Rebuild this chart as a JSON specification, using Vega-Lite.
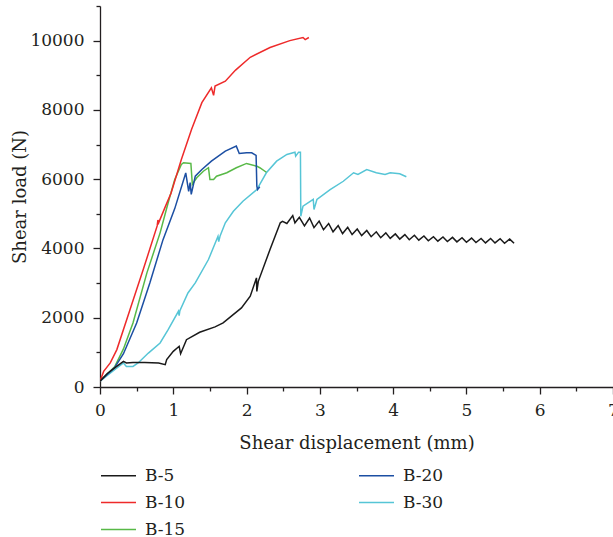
{
  "$schema": "https://vega.github.io/schema/vega-lite/v6.json",
  "width": 513,
  "height": 381,
  "autosize": {"type": "none"},
  "padding": {"left": 100, "top": 6, "right": 0, "bottom": 150},
  "background": "white",
  "config": {
    "view": {"stroke": null},
    "font": "DejaVu Serif",
    "axis": {
      "grid": false,
      "domainColor": "#231f20",
      "domainWidth": 1.3,
      "tickColor": "#231f20",
      "tickWidth": 1.3,
      "labelFont": "DejaVu Serif",
      "labelFontSize": 17,
      "labelColor": "#231f20",
      "titleFont": "DejaVu Serif",
      "titleFontSize": 18,
      "titleFontWeight": "normal",
      "titleColor": "#231f20"
    }
  },
  "data": {
    "values": [
      {"s":"B-30","x":0,"y":170},{"s":"B-30","x":0.2,"y":500},{"s":"B-30","x":0.32,"y":695},{"s":"B-30","x":0.36,"y":595},{"s":"B-30","x":0.45,"y":595},{"s":"B-30","x":0.52,"y":695},{"s":"B-30","x":0.66,"y":980},{"s":"B-30","x":0.82,"y":1270},{"s":"B-30","x":0.93,"y":1655},{"s":"B-30","x":1.07,"y":2185},{"s":"B-30","x":1.08,"y":2060},{"s":"B-30","x":1.09,"y":2205},{"s":"B-30","x":1.2,"y":2715},{"s":"B-30","x":1.3,"y":3005},{"s":"B-30","x":1.48,"y":3680},{"s":"B-30","x":1.61,"y":4350},{"s":"B-30","x":1.62,"y":4200},{"s":"B-30","x":1.64,"y":4370},{"s":"B-30","x":1.71,"y":4740},{"s":"B-30","x":1.82,"y":5075},{"s":"B-30","x":1.95,"y":5365},{"s":"B-30","x":2.14,"y":5700},{"s":"B-30","x":2.27,"y":6185},{"s":"B-30","x":2.41,"y":6520},{"s":"B-30","x":2.55,"y":6715},{"s":"B-30","x":2.66,"y":6780},{"s":"B-30","x":2.67,"y":6665},{"s":"B-30","x":2.71,"y":6780},{"s":"B-30","x":2.735,"y":6780},{"s":"B-30","x":2.74,"y":4930},{"s":"B-30","x":2.77,"y":5220},{"s":"B-30","x":2.91,"y":5415},{"s":"B-30","x":2.92,"y":5125},{"s":"B-30","x":2.96,"y":5415},{"s":"B-30","x":3.14,"y":5700},{"s":"B-30","x":3.32,"y":5940},{"s":"B-30","x":3.46,"y":6185},{"s":"B-30","x":3.52,"y":6135},{"s":"B-30","x":3.64,"y":6280},{"s":"B-30","x":3.77,"y":6185},{"s":"B-30","x":3.89,"y":6135},{"s":"B-30","x":3.96,"y":6185},{"s":"B-30","x":4.09,"y":6155},{"s":"B-30","x":4.18,"y":6070},

      {"s":"B-15","x":0,"y":170},{"s":"B-15","x":0.2,"y":580},{"s":"B-15","x":0.32,"y":1100},{"s":"B-15","x":0.45,"y":1850},{"s":"B-15","x":0.64,"y":3295},{"s":"B-15","x":0.82,"y":4450},{"s":"B-15","x":0.93,"y":5320},{"s":"B-15","x":1.02,"y":5990},{"s":"B-15","x":1.11,"y":6425},{"s":"B-15","x":1.14,"y":6475},{"s":"B-15","x":1.24,"y":6455},{"s":"B-15","x":1.26,"y":5850},{"s":"B-15","x":1.32,"y":6040},{"s":"B-15","x":1.41,"y":6230},{"s":"B-15","x":1.48,"y":6330},{"s":"B-15","x":1.5,"y":5990},{"s":"B-15","x":1.55,"y":5990},{"s":"B-15","x":1.59,"y":6085},{"s":"B-15","x":1.73,"y":6185},{"s":"B-15","x":1.86,"y":6330},{"s":"B-15","x":2.0,"y":6455},{"s":"B-15","x":2.14,"y":6375},{"s":"B-15","x":2.18,"y":6330},{"s":"B-15","x":2.27,"y":6200},

      {"s":"B-20","x":0,"y":170},{"s":"B-20","x":0.2,"y":560},{"s":"B-20","x":0.32,"y":960},{"s":"B-20","x":0.5,"y":1850},{"s":"B-20","x":0.68,"y":3005},{"s":"B-20","x":0.86,"y":4255},{"s":"B-20","x":1.02,"y":5150},{"s":"B-20","x":1.17,"y":6180},{"s":"B-20","x":1.21,"y":5650},{"s":"B-20","x":1.23,"y":5900},{"s":"B-20","x":1.245,"y":5560},{"s":"B-20","x":1.3,"y":6085},{"s":"B-20","x":1.39,"y":6280},{"s":"B-20","x":1.52,"y":6520},{"s":"B-20","x":1.71,"y":6810},{"s":"B-20","x":1.86,"y":6955},{"s":"B-20","x":1.9,"y":6740},{"s":"B-20","x":2.0,"y":6760},{"s":"B-20","x":2.07,"y":6760},{"s":"B-20","x":2.13,"y":6685},{"s":"B-20","x":2.14,"y":5800},{"s":"B-20","x":2.15,"y":5700},{"s":"B-20","x":2.18,"y":5780},

      {"s":"B-10","x":0,"y":170},{"s":"B-10","x":0.05,"y":450},{"s":"B-10","x":0.14,"y":695},{"s":"B-10","x":0.23,"y":1080},{"s":"B-10","x":0.41,"y":2235},{"s":"B-10","x":0.59,"y":3390},{"s":"B-10","x":0.78,"y":4650},{"s":"B-10","x":0.79,"y":4820},{"s":"B-10","x":0.8,"y":4740},{"s":"B-10","x":0.89,"y":5200},{"s":"B-10","x":0.97,"y":5600},{"s":"B-10","x":1.11,"y":6570},{"s":"B-10","x":1.25,"y":7440},{"s":"B-10","x":1.39,"y":8210},{"s":"B-10","x":1.52,"y":8640},{"s":"B-10","x":1.55,"y":8420},{"s":"B-10","x":1.57,"y":8690},{"s":"B-10","x":1.71,"y":8830},{"s":"B-10","x":1.85,"y":9150},{"s":"B-10","x":2.05,"y":9520},{"s":"B-10","x":2.32,"y":9800},{"s":"B-10","x":2.59,"y":10000},{"s":"B-10","x":2.77,"y":10090},{"s":"B-10","x":2.8,"y":10030},{"s":"B-10","x":2.85,"y":10090},

      {"s":"B-5","x":0,"y":170},{"s":"B-5","x":0.1,"y":390},{"s":"B-5","x":0.2,"y":550},{"s":"B-5","x":0.32,"y":740},{"s":"B-5","x":0.36,"y":695},{"s":"B-5","x":0.45,"y":710},{"s":"B-5","x":0.61,"y":710},{"s":"B-5","x":0.8,"y":695},{"s":"B-5","x":0.89,"y":645},{"s":"B-5","x":0.91,"y":790},{"s":"B-5","x":1.0,"y":1030},{"s":"B-5","x":1.08,"y":1175},{"s":"B-5","x":1.1,"y":960},{"s":"B-5","x":1.18,"y":1365},{"s":"B-5","x":1.36,"y":1580},{"s":"B-5","x":1.57,"y":1735},{"s":"B-5","x":1.68,"y":1850},{"s":"B-5","x":1.93,"y":2285},{"s":"B-5","x":2.05,"y":2620},{"s":"B-5","x":2.135,"y":3150},{"s":"B-5","x":2.14,"y":2760},{"s":"B-5","x":2.16,"y":3050},{"s":"B-5","x":2.32,"y":3970},{"s":"B-5","x":2.46,"y":4740},{"s":"B-5","x":2.49,"y":4785},{"s":"B-5","x":2.55,"y":4720},{"s":"B-5","x":2.63,"y":4950},{"s":"B-5","x":2.66,"y":4740},{"s":"B-5","x":2.72,"y":4900},{"s":"B-5","x":2.79,"y":4650},{"s":"B-5","x":2.86,"y":4880},{"s":"B-5","x":2.92,"y":4600},{"s":"B-5","x":2.99,"y":4790},{"s":"B-5","x":3.05,"y":4540},{"s":"B-5","x":3.12,"y":4720},{"s":"B-5","x":3.18,"y":4480},{"s":"B-5","x":3.25,"y":4660},{"s":"B-5","x":3.31,"y":4430},{"s":"B-5","x":3.38,"y":4610},{"s":"B-5","x":3.44,"y":4400},{"s":"B-5","x":3.51,"y":4560},{"s":"B-5","x":3.57,"y":4370},{"s":"B-5","x":3.64,"y":4520},{"s":"B-5","x":3.7,"y":4340},{"s":"B-5","x":3.77,"y":4480},{"s":"B-5","x":3.83,"y":4310},{"s":"B-5","x":3.9,"y":4450},{"s":"B-5","x":3.96,"y":4290},{"s":"B-5","x":4.03,"y":4420},{"s":"B-5","x":4.09,"y":4270},{"s":"B-5","x":4.16,"y":4400},{"s":"B-5","x":4.22,"y":4250},{"s":"B-5","x":4.29,"y":4380},{"s":"B-5","x":4.35,"y":4240},{"s":"B-5","x":4.42,"y":4360},{"s":"B-5","x":4.48,"y":4220},{"s":"B-5","x":4.55,"y":4340},{"s":"B-5","x":4.61,"y":4210},{"s":"B-5","x":4.68,"y":4330},{"s":"B-5","x":4.74,"y":4200},{"s":"B-5","x":4.81,"y":4320},{"s":"B-5","x":4.87,"y":4190},{"s":"B-5","x":4.94,"y":4310},{"s":"B-5","x":5.0,"y":4180},{"s":"B-5","x":5.07,"y":4300},{"s":"B-5","x":5.13,"y":4170},{"s":"B-5","x":5.2,"y":4290},{"s":"B-5","x":5.26,"y":4160},{"s":"B-5","x":5.33,"y":4290},{"s":"B-5","x":5.39,"y":4160},{"s":"B-5","x":5.46,"y":4280},{"s":"B-5","x":5.52,"y":4150},{"s":"B-5","x":5.59,"y":4270},{"s":"B-5","x":5.65,"y":4150}
    ]
  },
  "mark": {"type": "line", "strokeWidth": 1.5, "clip": true},
  "encoding": {
    "x": {
      "field": "x", "type": "quantitative",
      "scale": {"domain": [0, 7], "nice": false, "zero": false},
      "axis": {
        "title": "Shear displacement (mm)",
        "values": [0,0.5,1,1.5,2,2.5,3,3.5,4,4.5,5,5.5,6,6.5,7],
        "labelExpr": "datum.value % 1 === 0 ? format(datum.value, 'd') : ''",
        "tickSize": {"condition": {"test": "datum.value % 1 !== 0", "value": 4}, "value": 7},
        "labelPadding": 8,
        "labelFlush": false,
        "labelOverlap": false,
        "titlePadding": 16
      }
    },
    "y": {
      "field": "y", "type": "quantitative",
      "scale": {"domain": [0, 11000], "nice": false},
      "axis": {
        "title": "Shear load (N)",
        "values": [0,1000,2000,3000,4000,5000,6000,7000,8000,9000,10000,11000],
        "labelExpr": "datum.value % 2000 === 0 && datum.value <= 10000 ? format(datum.value, 'd') : ''",
        "tickSize": {"condition": {"test": "datum.value % 2000 !== 0", "value": 4}, "value": 7},
        "labelPadding": 9,
        "labelOverlap": false,
        "titlePadding": 0
      }
    },
    "color": {
      "field": "s", "type": "nominal",
      "scale": {
        "domain": ["B-5", "B-10", "B-15", "B-20", "B-30"],
        "range": ["#1a1a1a", "#ee2a2a", "#58b947", "#1c4fa3", "#56c5d6"]
      },
      "legend": {
        "orient": "none",
        "legendX": 0,
        "legendY": 451,
        "columns": 2,
        "title": null,
        "padding": 0,
        "symbolType": "stroke",
        "symbolSize": 1225,
        "symbolStrokeWidth": 1.5,
        "labelFont": "DejaVu Serif",
        "labelFontSize": 17,
        "labelColor": "#231f20",
        "labelOffset": 8,
        "rowPadding": -16,
        "columnPadding": 170
      }
    }
  }
}
